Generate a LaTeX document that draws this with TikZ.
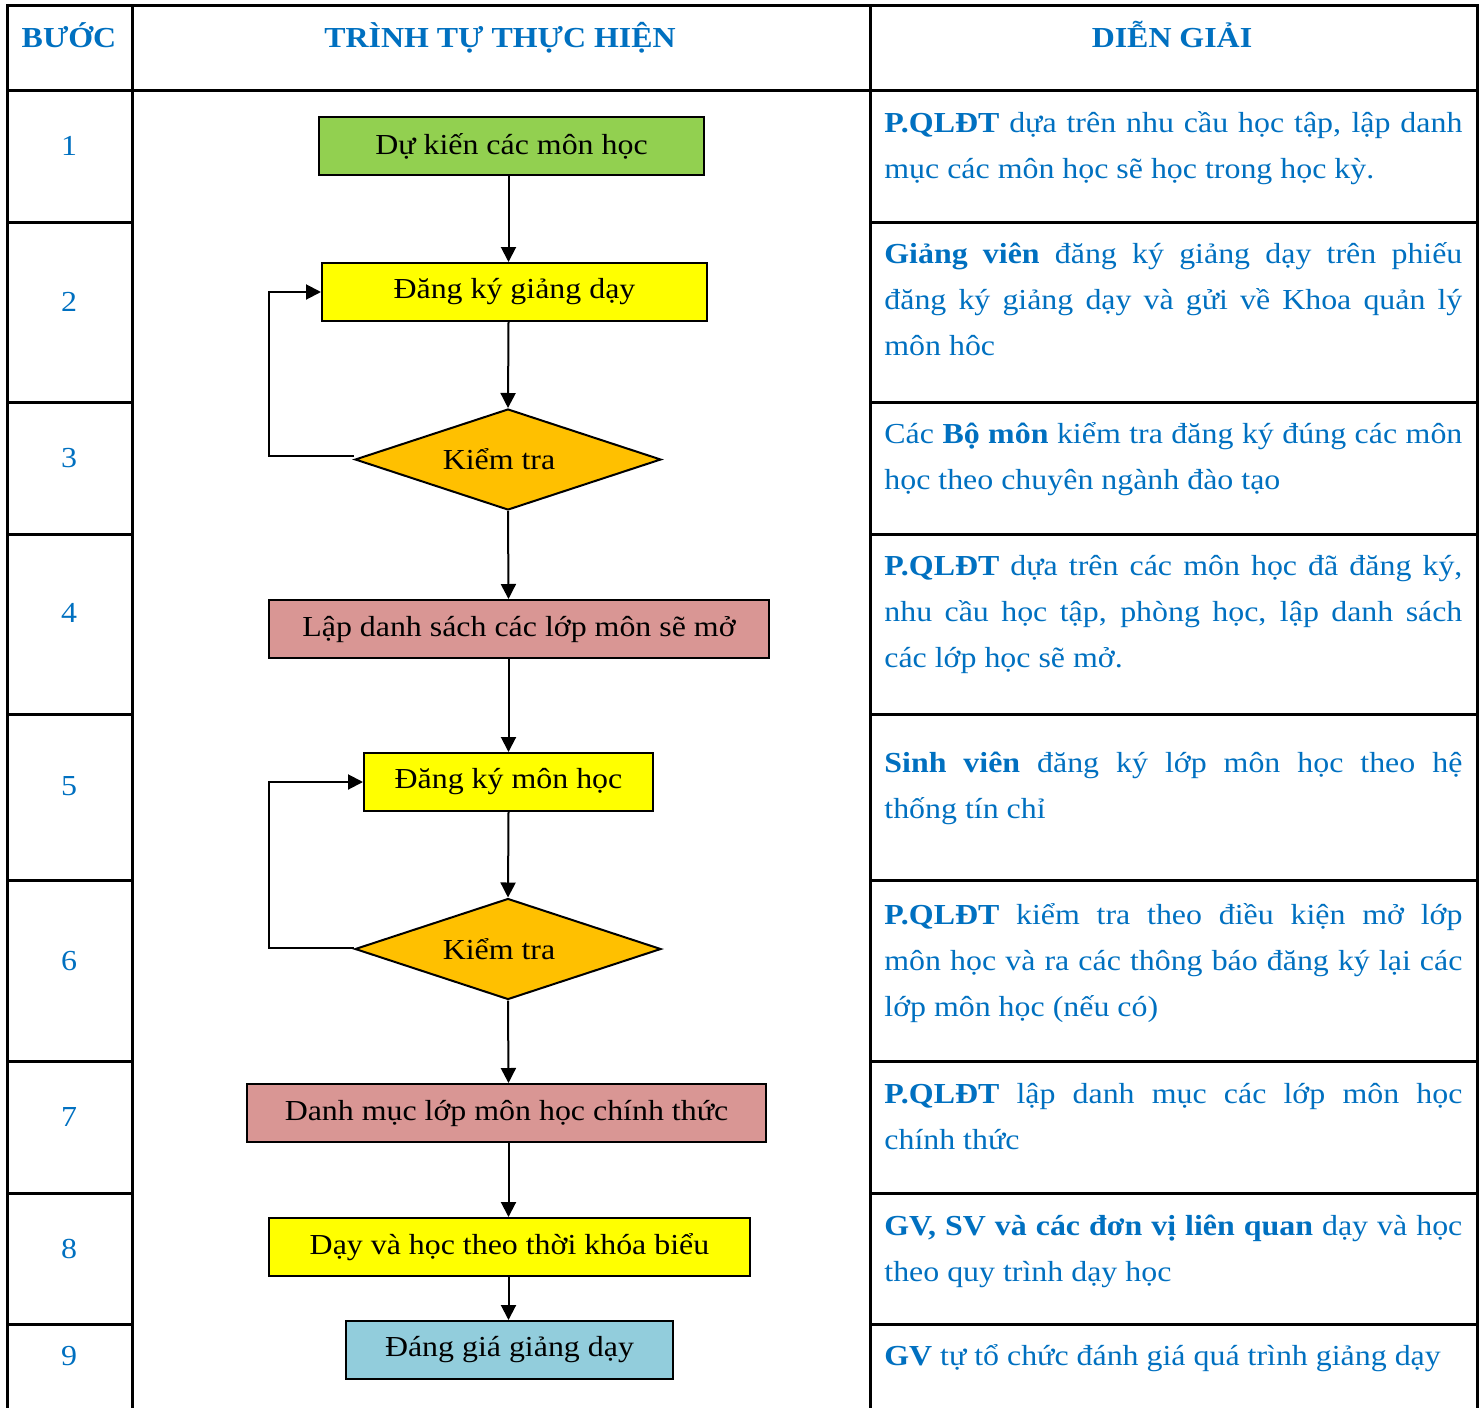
\documentclass[tikz,border=0pt]{standalone}
\usepackage{fontspec}
\setmainfont{Liberation Serif}[FakeStretch=1.1]
\usetikzlibrary{arrows.meta,shapes.geometric}
\definecolor{tblue}{HTML}{0070C0}
\definecolor{cgreen}{HTML}{92D050}
\definecolor{cyellow}{HTML}{FFFF00}
\definecolor{corange}{HTML}{FFC000}
\definecolor{cpink}{HTML}{D99694}
\definecolor{ccyan}{HTML}{92CDDC}
\begin{document}
\begin{tikzpicture}[x=0.5pt,y=-0.5pt,
  font=\fontsize{14.5}{23}\selectfont,
  tbl/.style={line width=1.5pt,line cap=rect},
  hdr/.style={anchor=base,text=tblue,font=\fontsize{14.5}{23}\selectfont\bfseries,inner sep=0},
  num/.style={anchor=base,text=tblue,inner sep=0},
  desc/.style={anchor=base west,text=tblue,text width=289pt,align=justify,inner sep=0,
    execute at begin node={\hyphenpenalty=10000\exhyphenpenalty=10000\tolerance=10000}},
  fbox/.style={draw=black,line width=1pt,minimum height=29pt,inner sep=0,text=black},
  dia/.style={draw=black,line width=1pt,diamond,aspect=3.03,fill=corange,minimum width=153pt,minimum height=50.5pt,inner sep=0,text=black},
  arr/.style={line width=1pt,-{Triangle[length=7.5pt,width=7.5pt]}}]
\useasboundingbox (0,0) rectangle (1483,1408);
% table
\draw[tbl] (7,1412) -- (7,5) -- (1477,5) -- (1477,1412);
\draw[tbl] (132,5) -- (132,1412);
\draw[tbl] (870,5) -- (870,1412);
\draw[tbl] (7,90) -- (1477,90);
\foreach \yy in {222,402,534,714,880,1061,1193,1324}{
  \draw[tbl] (7,\yy) -- (132,\yy);
  \draw[tbl] (870,\yy) -- (1477,\yy);
}
% headers
\node[hdr] (h1) at (69,47) {BƯỚC};
\node[hdr] (h2) at (500,47) {TRÌNH TỰ THỰC HIỆN};
\node[hdr] (h3) at (1172,47) {DIỄN GIẢI};
% numbers
\node[num] (n1) at (69,155) {1};
\node[num] (n2) at (69,311) {2};
\node[num] (n3) at (69,467) {3};
\node[num] (n4) at (69,622) {4};
\node[num] (n5) at (69,795) {5};
\node[num] (n6) at (69,970) {6};
\node[num] (n7) at (69,1126) {7};
\node[num] (n8) at (69,1258) {8};
\node[num] (n9) at (69,1365) {9};
% flowchart
\coordinate (ax) at (508.5,0);
\node[fbox,fill=cgreen,minimum width=192.5pt] (b1) at (511.5,146) {Dự kiến các môn học};
\node[fbox,fill=cyellow,minimum width=192.5pt] (b2) at (514.5,292) {Đăng ký giảng dạy};
\node[dia] (d1) at (508,459.5) {\hspace*{-9pt}Kiểm tra};
\node[fbox,fill=cpink,minimum width=250pt] (b4) at (519,629) {Lập danh sách các lớp môn sẽ mở};
\node[fbox,fill=cyellow,minimum width=144.5pt] (b5) at (508.5,782) {Đăng ký môn học};
\node[dia] (d2) at (508,949) {\hspace*{-9pt}Kiểm tra};
\node[fbox,fill=cpink,minimum width=259.5pt] (b7) at (506.5,1113) {Danh mục lớp môn học chính thức};
\node[fbox,fill=cyellow,minimum width=240.5pt] (b8) at (509.5,1247) {Dạy và học theo thời khóa biểu};
\node[fbox,fill=ccyan,minimum width=163.5pt] (b9) at (509.5,1350) {Đáng giá giảng dạy};
\draw[arr] (b1.south -| ax) -- (b2.north -| ax);
\draw[arr] (b2.south -| ax) -- (d1.north);
\draw[arr] (d1.south) -- (b4.north -| ax);
\draw[arr] (b4.south -| ax) -- (b5.north -| ax);
\draw[arr] (b5.south -| ax) -- (d2.north);
\draw[arr] (d2.south) -- (b7.north -| ax);
\draw[arr] (b7.south -| ax) -- (b8.north -| ax);
\draw[arr] (b8.south -| ax) -- (b9.north -| ax);
\draw[arr] ([yshift=2pt]d1.west) -- ++(-85,0) |- (b2.west);
\draw[arr] ([yshift=0.5pt]d2.west) -- ++(-85,0) |- (b5.west);
% descriptions
\node[desc] (t1) at (884,132) {\textbf{P.QLĐT} dựa trên nhu cầu học tập, lập danh\linebreak mục các môn học sẽ học trong học kỳ.};
\node[desc] (t2) at (884,263) {\textbf{Giảng viên} đăng ký giảng dạy trên phiếu\linebreak đăng ký giảng dạy và gửi về Khoa quản lý\linebreak môn hôc};
\node[desc] (t3) at (884,443) {Các \textbf{Bộ môn} kiểm tra đăng ký đúng các môn\linebreak học theo chuyên ngành đào tạo};
\node[desc] (t4) at (884,575) {\textbf{P.QLĐT} dựa trên các môn học đã đăng ký,\linebreak nhu cầu học tập, phòng học, lập danh sách\linebreak các lớp học sẽ mở.};
\node[desc] (t5) at (884,772) {\textbf{Sinh viên} đăng ký lớp môn học theo hệ\linebreak thống tín chỉ};
\node[desc] (t6) at (884,924) {\textbf{P.QLĐT} kiểm tra theo điều kiện mở lớp\linebreak môn học và ra các thông báo đăng ký lại các\linebreak lớp môn học (nếu có)};
\node[desc] (t7) at (884,1103) {\textbf{P.QLĐT} lập danh mục các lớp môn học\linebreak chính thức};
\node[desc] (t8) at (884,1235) {\textbf{GV, SV và các đơn vị liên quan} dạy và học\linebreak theo quy trình dạy học};
\node[desc] (t9) at (884,1365) {\textbf{GV} tự tổ chức đánh giá quá trình giảng dạy};
\end{tikzpicture}
\end{document}
